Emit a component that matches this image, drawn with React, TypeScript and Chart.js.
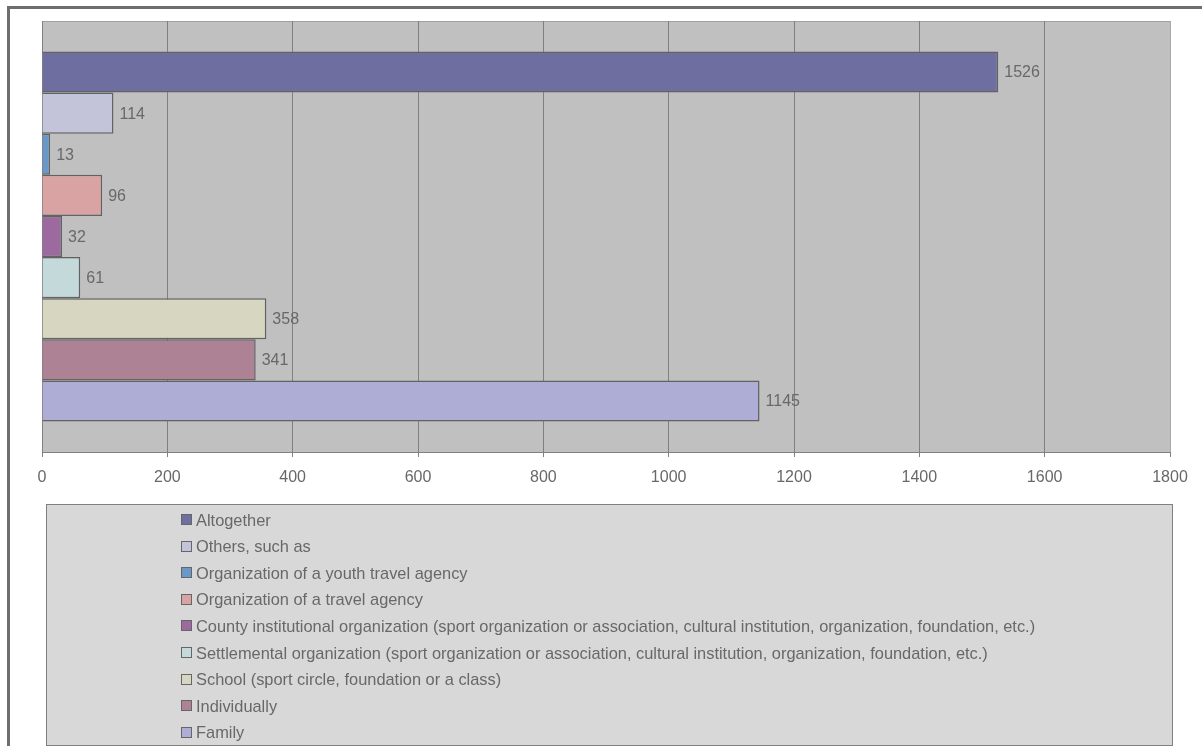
import React, { useEffect, useRef } from "react";
import { Chart, registerables } from "chart.js";

Chart.register(...registerables);

const seriesNames: string[] = [
  "Altogether",
  "Others, such as",
  "Organization of a youth travel agency",
  "Organization of a travel agency",
  "County institutional organization (sport organization or association, cultural institution, organization, foundation, etc.)",
  "Settlemental organization (sport organization or association, cultural institution, organization, foundation, etc.)",
  "School (sport circle, foundation or a class)",
  "Individually",
  "Family",
];

const seriesValues: number[] = [1526, 114, 13, 96, 32, 61, 358, 341, 1145];

const seriesColors: string[] = [
  "#6E6EA0",
  "#C3C3DA",
  "#6A98C8",
  "#D9A3A3",
  "#9C6A9E",
  "#C4DADA",
  "#D6D6C1",
  "#AD8295",
  "#ADADD6",
];

const categories: string[] = [""];
const xMin = 0;
const xMax = 1800;
const xStep = 200;

const FONT = '"Liberation Sans", Arial, sans-serif';
const TEXT_COLOR = "#686868";

const backgroundPlugin = {
  id: "bgFrame",
  beforeDraw(chart: any) {
    const { ctx, chartArea, width, height } = chart;
    ctx.save();
    ctx.fillStyle = "#FFFFFF";
    ctx.fillRect(0, 0, width, height);
    ctx.strokeStyle = "#6E6E6E";
    ctx.lineWidth = 3;
    ctx.beginPath();
    ctx.moveTo(8.5, height + 10);
    ctx.lineTo(8.5, 7.5);
    ctx.lineTo(width + 10, 7.5);
    ctx.stroke();
    ctx.fillStyle = "#C0C0C0";
    ctx.fillRect(chartArea.left, chartArea.top, chartArea.right - chartArea.left, chartArea.bottom - chartArea.top);
    ctx.strokeStyle = "#A0A0A0";
    ctx.lineWidth = 1;
    ctx.strokeRect(chartArea.left + 0.5, chartArea.top + 0.5, chartArea.right - chartArea.left, chartArea.bottom - chartArea.top);
    ctx.restore();
  },
};

const valueLabelPlugin = {
  id: "valueLabels",
  afterDatasetsDraw(chart: any) {
    const { ctx } = chart;
    ctx.save();
    ctx.font = `16px ${FONT}`;
    ctx.fillStyle = TEXT_COLOR;
    ctx.textAlign = "left";
    ctx.textBaseline = "middle";
    chart.data.datasets.forEach((ds: any, i: number) => {
      const meta = chart.getDatasetMeta(i);
      meta.data.forEach((el: any, j: number) => {
        ctx.fillText(String(ds.data[j]), el.x + 6, el.y + 1);
      });
    });
    ctx.restore();
  },
};

const legendPlugin = {
  id: "boxLegend",
  afterDraw(chart: any) {
    const { ctx } = chart;
    const bx = 46.5, by = 504.5, bw = 1126, bh = 241;
    ctx.save();
    ctx.fillStyle = "#D8D8D8";
    ctx.fillRect(bx, by, bw, bh);
    ctx.strokeStyle = "#808080";
    ctx.lineWidth = 1;
    ctx.strokeRect(bx, by, bw, bh);
    ctx.font = `16.4px ${FONT}`;
    ctx.textAlign = "left";
    ctx.textBaseline = "middle";
    const startY = 520;
    const step = 26.6;
    chart.data.datasets.forEach((ds: any, i: number) => {
      const cy = startY + i * step;
      ctx.fillStyle = ds.backgroundColor;
      ctx.fillRect(182, Math.round(cy) - 5, 9, 9);
      ctx.strokeStyle = "#666666";
      ctx.strokeRect(181.5, Math.round(cy) - 5.5, 10, 10);
      ctx.fillStyle = TEXT_COLOR;
      ctx.fillText(ds.label, 196, cy + 1);
    });
    ctx.restore();
  },
};

export default function App() {
  const ref = useRef<HTMLCanvasElement | null>(null);

  useEffect(() => {
    document.body.style.margin = "0";
    const canvas = ref.current;
    if (!canvas) return;
    const chart = new Chart(canvas, {
      type: "bar",
      data: {
        labels: categories,
        datasets: seriesNames.map((name, i) => ({
          label: name,
          data: [seriesValues[i]],
          backgroundColor: seriesColors[i],
          borderColor: "#626262",
          borderWidth: 1.5,
          categoryPercentage: 0.8585,
          barPercentage: 1,
        })),
      },
      options: {
        indexAxis: "y",
        animation: false,
        responsive: false,
        maintainAspectRatio: false,
        layout: { padding: { left: 42, top: 21, right: 32, bottom: 264 } },
        plugins: {
          legend: { display: false },
          tooltip: { enabled: false },
        },
        scales: {
          x: {
            type: "linear",
            position: "bottom",
            min: xMin,
            max: xMax,
            ticks: {
              stepSize: xStep,
              color: TEXT_COLOR,
              font: { family: FONT, size: 16 },
              padding: 11,
              callback: (v: any) => String(v),
            },
            grid: {
              color: (c: any) => (c.tick && c.tick.value === xMax ? "#A8A8A8" : "#808080"),
              tickColor: "#808080",
              tickLength: 5,
              lineWidth: 1,
            },
            border: { color: "#808080", width: 1 },
            afterFit: (s: any) => {
              s.height = 30;
            },
          },
          y: {
            type: "category",
            display: false,
          },
        },
      } as any,
      plugins: [backgroundPlugin, valueLabelPlugin, legendPlugin],
    });
    return () => chart.destroy();
  }, []);

  return <canvas ref={ref} width={1202} height={746} style={{ display: "block" }} />;
}
